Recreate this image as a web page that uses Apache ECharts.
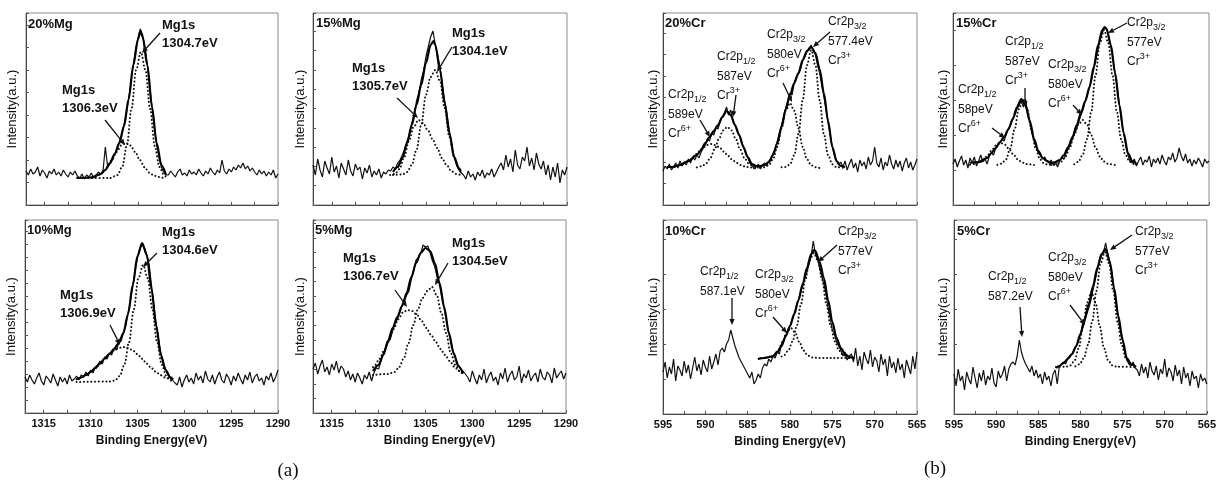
<!DOCTYPE html>
<html>
<head>
<meta charset="utf-8">
<script src="https://cdn.jsdelivr.net/npm/echarts@6/dist/echarts.min.js"></script>
<style>
html,body{margin:0;padding:0;background:#fff;}
#main{width:1219px;height:481px;}
</style>
</head>
<body>
<div id="main"></div>
<script>
// energy grid of the raw scans (eV, axis runs high -> low)
var mgStart = 1317, crStart = 595, eStep = 0.25;

// ---- Mg1s raw scans (a.u.) ----
var mg20Raw = [34,30,36,31,33,38,29,35,32,27,34,31,36,30,33,29,35,31,28,33,30,34,
  29,27,31,26,30,28,32,27,30,33,
  31,34,58,38,42,45,51,56,63,70,80,92,106,124,140,156,166,176,170,158,140,120,98,78,60,48,38,33,30,
  30,34,31,28,33,36,30,32,29,35,31,33,30,36,32,29,34,31,37,33,30,35,32,45,34,31,36,33,38,35,40,37,42,36,39,34,37,33,30,35,31,34,29,33,30,35,27,31];
var mg15Raw = [40,30,46,35,28,44,37,31,48,33,39,27,42,36,30,45,34,29,41,35,38,26,37,32,40,28,34,30,36,27,33,31,35,
  34,38,36,42,45,50,56,64,70,82,90,104,112,125,134,148,158,168,174,160,150,138,120,104,90,74,60,48,40,35,32,
  30,26,34,28,31,25,33,29,35,27,32,30,36,28,33,38,
  42,35,50,38,46,33,55,40,36,48,44,58,39,47,35,52,41,
  36,44,30,40,25,38,28,42,22,35,30,38];
var mg10Raw = [36,31,38,33,29,35,40,32,28,37,34,30,39,33,27,36,31,35,29,38,32,34,
  37,33,38,36,41,37,43,40,46,48,52,49,56,54,60,58,65,63,70,72,80,88,100,112,126,142,155,164,168,165,158,148,128,108,90,74,60,50,44,38,35,33,
  30,28,36,26,33,38,31,35,29,40,33,37,30,42,34,31,38,29,36,41,33,30,39,35,28,37,32,40,34,29,38,33,41,30,36,39,32,35,28,37,33,40,31,36,43];
var mg5Raw = [44,50,39,47,53,41,46,38,49,43,52,40,47,44,
  36,42,33,39,31,40,35,29,38,34,41,32,
  40,45,44,52,60,64,70,74,82,90,94,100,108,112,118,122,134,143,153,156,160,168,166,167,160,152,146,136,128,116,104,92,80,70,60,54,48,44,42,39,
  36,31,42,35,29,38,33,44,30,37,41,32,36,28,40,34,45,31,38,42,33,36,47,30,39,35,43,32,37,40,31,44,36,33,41,38,30,45,35,39,42,34,40];

// ---- Mg1s fitted components and envelopes [eV, a.u.] ----
var mg20Main = [[1311.5,27],[1308,27],[1307.2,30],[1306.7,38],[1306.2,59],[1305.7,96],[1305.2,135],[1304.7,153],[1304.2,135],[1303.7,96],[1303.2,59],[1302.7,38],[1302.2,30],[1302,28]];
var mg20Side = [[1311.5,27],[1310.3,27.3],[1309.8,28],[1309.3,29.5],[1308.8,32.5],[1308.3,37.7],[1307.8,45],[1307.3,53],[1306.8,59.5],[1306.3,62],[1305.8,59.5],[1305.3,53],[1304.8,45],[1304.3,37.7],[1303.8,32.5],[1303.3,29.5],[1302.8,28],[1302.3,27.3],[1302,27]];
var mg20Env = [[1311.5,27],[1310,27.5],[1309,31],[1308.5,35],[1308,42],[1307.5,51],[1307,62],[1306.5,79],[1306,106],[1305.5,140],[1305,166],[1304.75,174],[1304.5,168],[1304,140],[1303.5,98],[1303,62],[1302.5,40],[1302,30]];

var mg15Main = [[1308.5,30],[1307.5,30.5],[1307,33],[1306.5,40],[1306,55],[1305.5,80],[1305,110],[1304.5,128],[1304,135],[1303.5,124],[1303,97],[1302.5,68],[1302,48],[1301.5,36],[1301.3,33]];
var mg15Side = [[1308.8,30],[1308.3,31],[1307.8,36],[1307.3,48],[1306.8,64],[1306.3,78],[1305.8,85],[1305.3,82],[1304.8,75],[1304.3,66],[1303.8,57],[1303.3,47],[1302.8,40],[1302.3,34],[1301.8,31],[1301.3,30]];
var mg15Env = [[1308.5,33],[1308,38],[1307.5,47],[1307,62],[1306.5,80],[1306,100],[1305.5,120],[1305,142],[1304.5,160],[1304.2,164],[1304,160],[1303.5,135],[1303,102],[1302.5,72],[1302,48],[1301.5,37],[1301.3,34]];

var mg10Main = [[1311.5,31],[1308,31.5],[1307.4,32.5],[1306.9,36.9],[1306.4,48.1],[1305.9,70.7],[1305.4,103.3],[1304.9,134.8],[1304.4,148],[1303.9,134.8],[1303.4,103.3],[1302.9,70.7],[1302.4,48.1],[1301.9,36.9],[1301.4,32.5],[1301.2,31.5]];
var mg10Side = [[1311.5,33.7],[1311,35.3],[1310.5,37.7],[1310,40.9],[1309.5,44.8],[1309,49.3],[1308.5,54.2],[1308,58.8],[1307.5,62.6],[1307,65.1],[1306.5,66],[1306,65.1],[1305.5,62.6],[1305,58.8],[1304.5,54.2],[1304,49.3],[1303.5,44.8],[1303,40.9],[1302.5,37.7],[1302,35.3],[1301.5,33.7],[1301.2,33]];
var mg10Env = [[1311.5,34],[1311,35.5],[1310.5,38],[1310,41],[1309.5,45],[1309,49.5],[1308.5,54.5],[1308,59],[1307.5,64],[1307,70],[1306.5,80],[1306,99],[1305.5,128],[1305,157],[1304.5,170],[1304,158],[1303.5,124],[1303,87],[1302.5,58],[1302,43],[1301.5,36],[1301.2,33.5]];

var mg5Main = [[1310.6,38],[1309,39],[1308.3,41],[1307.8,46],[1307.3,55],[1306.8,70],[1306.3,88],[1305.8,104],[1305.3,115],[1304.8,122],[1304.3,126],[1303.8,118],[1303.3,100],[1302.8,80],[1302.3,60],[1301.8,48],[1301.3,41],[1301,39]];
var mg5Side = [[1310.6,45.9],[1310.4,47.8],[1309.9,54.2],[1309.4,62.8],[1308.9,73],[1308.4,84],[1307.9,93.7],[1307.4,100.5],[1306.9,103],[1306.4,102],[1305.9,98],[1305.4,92],[1304.9,85],[1304.4,78],[1303.9,71],[1303.4,64],[1302.9,58],[1302.4,52],[1301.9,46],[1301.4,42],[1301,40]];
var mg5Env = [[1310.6,42],[1310,48],[1309.5,58],[1309,72],[1308.5,85],[1308,96],[1307.5,107],[1307,120],[1306.5,136],[1306,150],[1305.5,160],[1305,165],[1304.5,162],[1304,150],[1303.5,130],[1303,106],[1302.5,80],[1302,60],[1301.5,47],[1301,40]];

// ---- Cr2p raw scans (a.u.) ----
var cr20Raw = [34,39,36,41,35,38,42,37,44,39,43,40,46,42,48,45,50,47,53,
  57,60,66,64,72,70,78,76,84,88,92,98,90,95,84,80,74,70,64,58,52,48,42,40,36,38,41,36,
  40,42,39,44,46,52,56,64,72,80,88,97,104,112,110,122,128,131,136,144,148,153,157,160,155,150,140,132,120,108,96,82,70,58,50,44,40,43,
  38,44,35,41,46,37,42,33,45,39,43,36,48,40,44,58,42,38,47,35,43,39,50,41,36,45,38,44,34,42,47,37,43,35,40,46];
var cr15Raw = [41,46,38,44,49,40,45,37,47,42,48,39,44,50,43,46,41,49,
  52,50,57,60,62,66,64,72,76,80,86,90,96,100,104,98,106,90,84,72,64,58,52,50,46,48,44,42,45,
  40,43,38,44,47,46,52,56,60,66,72,76,84,90,96,104,110,118,126,136,146,156,166,172,178,176,168,158,146,130,118,100,84,72,60,50,44,
  42,46,39,44,48,40,45,43,49,38,46,42,47,41,50,44,40,48,45,52,43,47,57,49,44,51,42,46,39,45,41,47,43,38,46,42,44];
var cr10Raw = [42,52,36,47,40,55,33,48,44,38,53,41,49,35,46,57,43,50,39,54,47,42,58,45,52,60,49,63,
  66,62,70,74,84,76,68,62,56,52,48,44,40,36,42,30,34,
  40,36,46,50,48,55,52,58,56,62,60,70,74,78,84,88,94,100,108,114,122,128,136,142,150,158,173,160,155,146,138,130,120,106,96,84,80,72,68,64,58,62,54,58,
  60,52,66,48,58,44,62,55,50,64,47,57,53,42,60,49,55,38,58,46,52,41,56,44,50,36,54,47,40,58,45,62];
var cr5Raw = [40,28,45,33,38,24,42,35,30,47,36,26,41,33,44,29,38,34,46,31,27,43,36,40,48,33,45,50,
  52,49,58,74,62,55,50,46,42,48,38,44,36,40,30,42,34,38,28,40,
  44,30,48,50,52,50,56,58,60,64,68,72,80,86,92,100,106,114,124,134,144,152,158,162,171,160,152,140,124,110,96,84,76,62,54,50,48,52,46,
  44,38,50,41,47,36,52,43,39,48,34,45,40,55,37,46,42,33,49,38,44,30,47,36,41,28,43,35,38,26,40,33,36,30];

// ---- Cr2p fitted components and envelopes [eV, a.u.] ----
var cr20P589 = [[594.5,37.5],[593.8,37.7],[593.3,38.5],[592.8,39.9],[592.3,42.1],[591.8,45.1],[591.3,49],[590.8,53.3],[590.3,57.2],[589.8,60],[589.3,61],[588.8,60],[588.3,57.2],[587.8,53.3],[587.3,49],[586.8,45.1],[586.3,42.1],[585.8,39.9],[585.3,38.5],[584.8,37.7],[584,37]];
var cr20P587 = [[591,37.6],[590.4,38.8],[589.9,41.7],[589.4,47.2],[588.9,55.8],[588.4,66],[587.9,74.6],[587.4,78],[586.9,74.6],[586.4,66],[585.9,55.8],[585.4,47.2],[584.9,41.7],[584.4,38.8],[583.9,37.6],[583.5,37]];
var cr20P580 = [[583.5,37],[583,37.7],[582.5,39.9],[582,45.8],[581.5,58.1],[581,76.5],[580.5,94.3],[580,102],[579.5,94.3],[579,76.5],[578.5,58.1],[578,45.8],[577.5,39.9],[577,37.7],[576.5,37]];
var cr20P577 = [[581,37.8],[580.5,38],[580,40.7],[579.5,49.9],[579,71],[578.5,104.9],[578,139.8],[577.5,155],[577,139.8],[576.5,104.9],[576,71],[575.5,49.9],[575,40.7],[574.5,37.8],[573.5,37]];
var cr20Env = [[594.5,38],[594,38],[593,40],[592,44],[591,50],[590.5,55],[590,62],[589.5,68],[589,74],[588.5,80],[588,88],[587.5,94],[587,90],[586.5,80],[586,70],[585.5,58],[585,48],[584.5,41],[584,39],[583.5,39],[583,40],[582.5,43],[582,50],[581.5,62],[581,78],[580.5,96],[580,110],[579.5,122],[579,132],[578.5,145],[578,154],[577.5,158],[577,152],[576.5,136],[576,112],[575.5,84],[575,58],[574.5,44],[574,39],[573.5,38]];

var cr15P589 = [[593,40.3],[592.4,41],[591.9,42.5],[591.4,45.5],[590.9,50.1],[590.4,55.6],[589.9,60.2],[589.4,62],[588.9,60.2],[588.4,55.6],[587.9,50.1],[587.4,45.5],[586.9,42.5],[586.4,41],[585.5,40]];
var cr15P587 = [[589.8,40.2],[589.3,41.4],[588.8,45.5],[588.3,56.2],[587.8,75],[587.3,95.7],[586.8,105],[586.3,95.7],[585.8,75],[585.3,56.2],[584.8,45.5],[584.3,41.4],[583.8,40.2],[583,40]];
var cr15P580 = [[583.5,40],[582.8,41.1],[582.3,43.4],[581.8,48.6],[581.3,57.8],[580.8,69.8],[580.3,80.6],[579.8,85],[579.3,80.6],[578.8,69.8],[578.3,57.8],[577.8,48.6],[577.3,43.4],[576.8,41.1],[576,40]];
var cr15P577 = [[580.8,40.8],[580.3,43.2],[579.8,50.3],[579.3,65.9],[578.8,93.3],[578.3,129.4],[577.8,161.8],[577.3,175],[576.8,161.8],[576.3,129.4],[575.8,93.3],[575.3,65.9],[574.8,50.3],[574.3,43.2],[573.8,40.8]];
var cr15Env = [[593,42],[592,43],[591,47],[590.5,52],[590,57],[589.5,63],[589,68],[588.5,76],[588,86],[587.5,98],[587,106],[586.5,100],[586,84],[585.5,66],[585,54],[584.5,47],[584,44],[583.5,42],[583,43],[582.5,45],[582,50],[581.5,58],[581,68],[580.5,80],[580,92],[579.5,104],[579,118],[578.5,138],[578,160],[577.5,175],[577.2,178],[577,176],[576.5,160],[576,132],[575.5,100],[575,72],[574.5,52],[574,44],[573.5,41]];

var cr10P580 = [[583.5,56],[582.4,56.5],[581.9,58.5],[581.4,63.5],[580.9,72],[580.4,81.5],[579.9,86],[579.4,81.5],[578.9,72],[578.4,63.5],[577.9,58.5],[577.4,56.5],[576.5,56],[574,56],[572.5,56]];
var cr10P577 = [[581,57.5],[580.7,58.8],[580.2,63.4],[579.7,72.5],[579.2,88.1],[578.7,110],[578.2,134.1],[577.7,153.5],[577.2,161],[576.7,153.5],[576.2,134.1],[575.7,110],[575.2,88.1],[574.7,72.5],[574.2,63.4],[573.7,58.8],[573,56.5],[572.5,56]];
var cr10Env = [[583.8,55],[583,56],[582.5,57],[582,58],[581.5,62],[581,68],[580.5,78],[580,88],[579.5,100],[579,114],[578.5,130],[578,146],[577.5,160],[577.2,164],[577,163],[576.5,152],[576,136],[575.5,114],[575,92],[574.5,76],[574,66],[573.5,60],[573,57],[572.4,56]];

var cr5P580 = [[582.9,47],[581.7,47.3],[581.2,48.6],[580.7,53.4],[580.2,65.7],[579.7,87.4],[579.2,111.3],[578.7,122],[578.2,111.3],[577.7,87.4],[577.2,65.7],[576.7,53.4],[576.2,48.6],[575.7,47.3],[573.5,47]];
var cr5P577 = [[580.6,47.7],[580.1,49.8],[579.6,55.7],[579.1,69.1],[578.6,92.4],[578.1,123.1],[577.6,150.7],[577.1,162],[576.6,150.7],[576.1,123.1],[575.6,92.4],[575.1,69.1],[574.6,55.7],[574.1,49.8],[573.5,47.5]];
var cr5Env = [[582.9,46],[582.5,48],[582,51],[581.5,55],[581,60],[580.5,68],[580,80],[579.5,95],[579,110],[578.5,128],[578,146],[577.5,160],[577,165],[576.5,152],[576,126],[575.5,98],[575,74],[574.5,56],[574,50],[573.4,47]];

var SANS = '"Liberation Sans", Arial, sans-serif';
var SERIF = '"Liberation Serif", "Times New Roman", serif';

// panel layout
var panels = [
  {grid:{left:26,top:13,width:252,height:192}, xr:[1290,1317], start:mgStart, raw:mg20Raw, env:mg20Env, comps:[mg20Main,mg20Side], yTick:22.5, bottom:false, nameGap:7},
  {grid:{left:313,top:13,width:254,height:192}, xr:[1290,1317], start:mgStart, raw:mg15Raw, env:mg15Env, comps:[mg15Main,mg15Side], yTick:19.3, bottom:false, nameGap:6},
  {grid:{left:25,top:220,width:253,height:193}, xr:[1290,1317], start:mgStart, raw:mg10Raw, env:mg10Env, comps:[mg10Main,mg10Side], yTick:13, bottom:true, nameGap:7},
  {grid:{left:313,top:220,width:253,height:193}, xr:[1290,1317], start:mgStart, raw:mg5Raw, env:mg5Env, comps:[mg5Main,mg5Side], yTick:14.6, bottom:true, nameGap:6},
  {grid:{left:663,top:13,width:254,height:192}, xr:[565,595], start:crStart, raw:cr20Raw, env:cr20Env, comps:[cr20P589,cr20P587,cr20P580,cr20P577], yTick:21.5, bottom:false, nameGap:3},
  {grid:{left:953,top:13,width:256,height:192}, xr:[565,595], start:crStart, raw:cr15Raw, env:cr15Env, comps:[cr15P589,cr15P587,cr15P580,cr15P577], yTick:35, bottom:false, nameGap:3},
  {grid:{left:663,top:220,width:254,height:194}, xr:[565,595], start:crStart, raw:cr10Raw, env:cr10Env, comps:[cr10P580,cr10P577], yTick:35, bottom:true, nameGap:3},
  {grid:{left:954,top:220,width:254,height:194}, xr:[565,595], start:crStart, raw:cr5Raw, env:cr5Env, comps:[cr5P580,cr5P577], yTick:35, bottom:true, nameGap:4}
];

function cr(sub, ev, sup){
  var s = '{n|Cr2p}{s|' + sub + '}\n{n|' + ev + '}';
  if(sup){ s += '\n{n|Cr}{p|' + sup + '}'; }
  return s;
}

// annotation texts: [x, y, text, kind]
var notes = [
  [28,18,'20%Mg','tag'], [162,16,'Mg1s\n1304.7eV','mg'], [62,81,'Mg1s\n1306.3eV','mg'],
  [316,17,'15%Mg','tag'], [452,24,'Mg1s\n1304.1eV','mg'], [352,59,'Mg1s\n1305.7eV','mg'],
  [27,224,'10%Mg','tag'], [162,223,'Mg1s\n1304.6eV','mg'], [60,286,'Mg1s\n1306.9eV','mg'],
  [315,224,'5%Mg','tag'], [452,234,'Mg1s\n1304.5eV','mg'], [343,249,'Mg1s\n1306.7eV','mg'],
  [665,17,'20%Cr','tag'], [828,12,cr('3/2','577.4eV','3+'),'cr'], [767,25,cr('3/2','580eV','6+'),'cr'],
  [717,47,cr('1/2','587eV','3+'),'cr'], [668,85,cr('1/2','589eV','6+'),'cr'],
  [956,17,'15%Cr','tag'], [1127,13,cr('3/2','577eV','3+'),'cr'], [1005,32,cr('1/2','587eV','3+'),'cr'],
  [1048,55,cr('3/2','580eV','6+'),'cr'], [958,80,cr('1/2','58peV','6+'),'cr'],
  [665,225,'10%Cr','tag'], [838,222,cr('3/2','577eV','3+'),'cr'], [700,262,cr('1/2','587.1eV'),'cr'],
  [755,265,cr('3/2','580eV','6+'),'cr'],
  [957,225,'5%Cr','tag'], [1135,222,cr('3/2','577eV','3+'),'cr'], [1048,248,cr('3/2','580eV','6+'),'cr'],
  [988,267,cr('1/2','587.2eV'),'cr']
];

// arrows: [x1, y1, x2(tip), y2(tip)]
var arrows = [
  [160,33,142,53],[105,120,125,145],
  [452,47,437,72],[397,98,418,118],
  [157,253,143,267],[110,325,120,345],
  [448,263,435,285],[395,290,407,307],
  [830,32,813,47],[783,83,792,102],[736,95,733,117],[700,120,710,137],
  [1127,23,1108,33],[1025,88,1025,107],[1073,105,1082,115],[992,128,1005,138],
  [837,245,818,262],[732,298,732,325],[773,317,787,333],
  [1132,235,1110,250],[1070,305,1085,325],[1020,307,1022,337]
];

function toPairs(vals, start){
  var out = [];
  for(var i=0;i<vals.length;i++){
    out.push([start - i*eStep, vals[i]]);
  }
  return out;
}

function arrowShapes(a){
  var dx=a[2]-a[0], dy=a[3]-a[1];
  var len=Math.sqrt(dx*dx+dy*dy), ux=dx/len, uy=dy/len;
  var hl=6, hw=2.6;
  var bx=a[2]-ux*hl, by=a[3]-uy*hl;
  return [
    {type:'line', z:100, shape:{x1:a[0],y1:a[1],x2:bx,y2:by}, style:{stroke:'#111',lineWidth:1.3}},
    {type:'polygon', z:100, shape:{points:[[a[2],a[3]],[bx-uy*hw,by+ux*hw],[bx+uy*hw,by-ux*hw]]}, style:{fill:'#111'}}
  ];
}

var grids=[], xAxes=[], yAxes=[], series=[], graphics=[];

panels.forEach(function(p, k){
  grids.push({left:p.grid.left, top:p.grid.top, width:p.grid.width, height:p.grid.height,
    show:true, borderColor:'#8c8c8c', borderWidth:1, backgroundColor:'rgba(0,0,0,0)'});
  xAxes.push({
    gridIndex:k, type:'value', inverse:true, min:p.xr[0], max:p.xr[1], interval:5,
    axisLine:{show:true, onZero:false, lineStyle:{color:'#444', width:1}},
    axisTick:{show:true, inside:true, length:3, lineStyle:{color:'#555'}},
    minorTick:{show:true, splitNumber:2, length:3, lineStyle:{color:'#555'}},
    splitLine:{show:false},
    axisLabel:{show:p.bottom, margin:5, color:'#111', fontSize:11, fontWeight:'bold', fontFamily:SANS,
      formatter:function(v){ return v%5===0 ? String(v) : ''; }},
    name:p.bottom ? 'Binding Energy(eV)' : '', nameLocation:'middle', nameGap:22,
    nameTextStyle:{color:'#111', fontSize:12, fontWeight:'bold', fontFamily:SANS}
  });
  yAxes.push({
    gridIndex:k, type:'value', min:0, max:p.grid.height, interval:p.yTick,
    axisLine:{show:true, lineStyle:{color:'#444', width:1}},
    axisTick:{show:true, inside:true, length:3, lineStyle:{color:'#555'}},
    axisLabel:{show:false}, splitLine:{show:false},
    name:'Intensity(a.u.)', nameLocation:'middle', nameGap:p.nameGap,
    nameTextStyle:{color:'#111', fontSize:13, fontFamily:SANS}
  });
  p.comps.forEach(function(c){
    series.push({type:'line', xAxisIndex:k, yAxisIndex:k, data:c, showSymbol:false, smooth:0.35,
      smoothMonotone:'x', animation:false, silent:true,
      lineStyle:{color:'#111', width:2, type:[0.1,3.6], cap:'round'}});
  });
  series.push({type:'line', xAxisIndex:k, yAxisIndex:k, data:toPairs(p.raw, p.start), showSymbol:false,
    animation:false, silent:true, lineStyle:{color:'#111', width:1.2}});
  series.push({type:'line', xAxisIndex:k, yAxisIndex:k, data:p.env, showSymbol:false, smooth:0.3,
    smoothMonotone:'x', animation:false, silent:true, lineStyle:{color:'#000', width:2.2}});
});

var crRich = {
  n:{fontFamily:SANS, fontSize:12, lineHeight:19.5, fill:'#111', color:'#111'},
  s:{fontFamily:SANS, fontSize:9, lineHeight:12, verticalAlign:'bottom', fill:'#111', color:'#111'},
  p:{fontFamily:SANS, fontSize:9, lineHeight:12, verticalAlign:'top', fill:'#111', color:'#111'}
};

notes.forEach(function(n){
  var st = {text:n[2], fill:'#111', align:'left', verticalAlign:'top'};
  if(n[3]==='cr'){
    st.rich = crRich; st.font = '12px ' + SANS;
  } else if(n[3]==='mg'){
    st.font = 'bold 13px ' + SANS; st.lineHeight = 18;
  } else {
    st.font = 'bold 13px ' + SANS;
  }
  graphics.push({type:'text', x:n[0], y:n[1], z:100, style:st});
});

arrows.forEach(function(a){
  graphics = graphics.concat(arrowShapes(a));
});

graphics.push({type:'text', x:288, y:471, z:100, style:{text:'(a)', font:'19px ' + SERIF, fill:'#111', align:'center', verticalAlign:'middle'}});
graphics.push({type:'text', x:935, y:469, z:100, style:{text:'(b)', font:'19px ' + SERIF, fill:'#111', align:'center', verticalAlign:'middle'}});

var myChart = echarts.init(document.getElementById('main'), null, {renderer:'canvas'});
myChart.setOption({
  animation:false,
  backgroundColor:'#fff',
  grid:grids,
  xAxis:xAxes,
  yAxis:yAxes,
  series:series,
  graphic:graphics
});
</script>
</body>
</html>
